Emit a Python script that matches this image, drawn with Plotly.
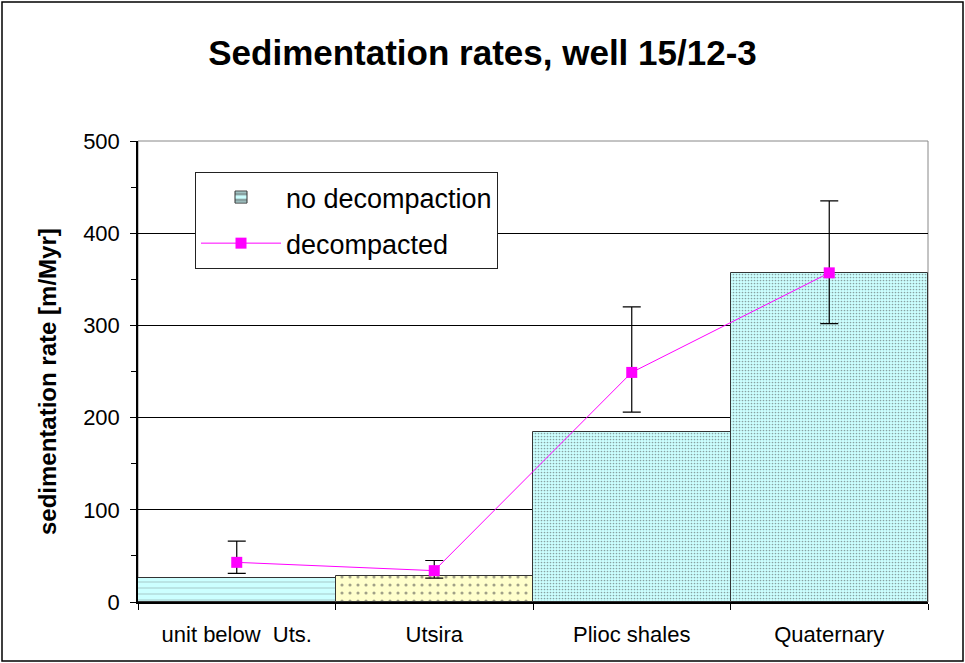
import plotly.graph_objects as go

categories = ["unit below  Uts.", "Utsira", "Plioc shales", "Quaternary"]
no_decompaction = [26, 28, 184, 357]
decompacted = [43, 34, 249, 357]
err_plus = [23, 11, 71, 78]
err_minus = [12, 8, 43, 55]
y_ticks = [0, 100, 200, 300, 400, 500]

bar_colors = ["#CCFFFF", "#FFFFCC", "#CCFFFF", "#CCFFFF"]
pattern_shapes = ["-", ".", ".", "."]
pattern_fg = ["#444444", "#999966", "#555555", "#555555"]
pattern_size = [6, 8, 3, 3]
pattern_sol = [0.1, 0.12, 0.25, 0.25]

fig = go.Figure()
fig.add_trace(go.Bar(
    x=categories, y=no_decompaction, name="no decompaction", legendgroup="a",
    marker=dict(color=bar_colors, line=dict(color="#333333", width=1),
                pattern=dict(shape=pattern_shapes, fgcolor=pattern_fg, bgcolor=bar_colors,
                             size=pattern_size, solidity=pattern_sol, fillmode="overlay")),
))
fig.add_trace(go.Scatter(
    x=categories, y=decompacted, name="decompacted", mode="lines+markers", legendgroup="b",
    line=dict(color="#FF00FF", width=1),
    marker=dict(symbol="square", size=11, color="#FF00FF"),
    error_y=dict(type="data", symmetric=False, array=err_plus, arrayminus=err_minus,
                 color="#000000", thickness=1.2, width=9),
))

fig.update_layout(
    width=965, height=663,
    margin=dict(l=138, r=37, t=141, b=61),
    paper_bgcolor="white", plot_bgcolor="white",
    bargap=0,
    font=dict(family="Liberation Sans, Arial, sans-serif", color="black"),
    title=dict(text="<b>Sedimentation rates, well 15/12-3</b>", x=0.5, xanchor="center",
               y=1 - 53 / 663, yanchor="middle", font=dict(size=35, color="black")),
    showlegend=True,
    legend=dict(x=(195 - 138) / 790, y=(602 - 172) / 461, xanchor="left", yanchor="top",
                bordercolor="#222222", borderwidth=1, bgcolor="white",
                font=dict(size=27), itemwidth=80, traceorder="grouped", tracegroupgap=8),
    xaxis=dict(type="category", tickson="boundaries", ticks="outside", ticklen=6,
               tickcolor="black", showline=True, linecolor="black", linewidth=1.5,
               tickfont=dict(size=22), ticklabelstandoff=12, showgrid=False, range=[-0.5, 3.5]),
    yaxis=dict(range=[0, 500], tickvals=y_ticks, ticks="outside", ticklen=6,
               tickcolor="black", showline=True, linecolor="black", linewidth=1.5,
               gridcolor="black", gridwidth=1, tickfont=dict(size=22), ticklabelstandoff=6,
               zeroline=False,
               minor=dict(dtick=50, ticks="outside", ticklen=5, tickcolor="black", showgrid=False)),
    annotations=[
        dict(text="<b>sedimentation rate [m/Myr]</b>", textangle=-90, showarrow=False,
             xref="paper", yref="paper", x=(47 - 138) / 790, y=(602 - 382) / 461,
             xanchor="center", yanchor="middle", font=dict(size=24)),
    ],
    shapes=[
        dict(type="rect", xref="paper", yref="paper", x0=0, x1=1, y0=0, y1=1,
             line=dict(color="#888888", width=1), layer="below"),
        dict(type="rect", xref="paper", yref="paper",
             x0=(2 - 138) / 790, x1=(963 - 138) / 790,
             y0=(602 - 661) / 461, y1=(602 - 2) / 461,
             line=dict(color="black", width=1.5)),
    ],
)

fig.write_html("out.html", config={"displayModeBar": False},
               post_script="document.body.style.margin='0';")
